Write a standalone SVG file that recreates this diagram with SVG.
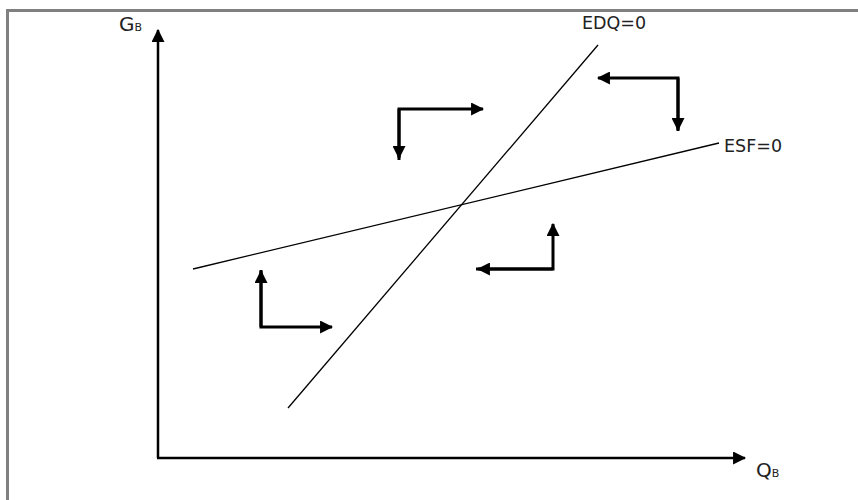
<svg xmlns="http://www.w3.org/2000/svg" width="858" height="500" viewBox="0 0 858 500">
<style>
.frame{stroke:#808080;stroke-width:3;fill:none}
.axis{stroke:#000;stroke-width:2.5;fill:none}
.curve{stroke:#000;stroke-width:1.3;fill:none}
.dir{stroke:#000;stroke-width:3;fill:none}
.lbl{font-family:"DejaVu Sans","Liberation Sans",sans-serif;font-size:17.5px;fill:#222}
.big{font-size:20px}
.sub{font-size:11px}
</style>
<defs>
<marker id="ax" viewBox="0 0 12 12" refX="11" refY="6" markerWidth="13" markerHeight="13" markerUnits="userSpaceOnUse" orient="auto"><path d="M0,0 L12,6 L0,12 Z" fill="#000"/></marker>
<marker id="ah" viewBox="0 0 12 12" refX="11" refY="6" markerWidth="13" markerHeight="13" markerUnits="userSpaceOnUse" orient="auto"><path d="M0,0 L12,6 L0,12 Z" fill="#000"/></marker>
</defs>
<rect width="858" height="500" fill="#fff"/>
<path class="frame" d="M7.5,500 V10.5 H858"/>
<g id="connectors">
<path class="axis" d="M158,458 V30" marker-end="url(#ax)"/>
<path class="axis" d="M157,458 H745" marker-end="url(#ax)"/>
<path class="curve" d="M288,408 L598,45"/>
<path class="curve" d="M193,269 L719,143"/>
<path class="dir" d="M399,160 V109 H483" marker-end="url(#ah)"/>
<path class="dir" d="M399,109 V158" marker-end="url(#ah)"/>
<path class="dir" d="M678,131 V78 H598" marker-end="url(#ah)"/>
<path class="dir" d="M678,78 V130" marker-end="url(#ah)"/>
<path class="dir" d="M476,269 H553 V224" marker-end="url(#ah)"/>
<path class="dir" d="M553,269 H478" marker-end="url(#ah)"/>
<path class="dir" d="M261,270 V327 H332" marker-end="url(#ah)"/>
<path class="dir" d="M261,327 V271" marker-end="url(#ah)"/>
</g>
<g id="label-GB"><text class="lbl big" x="119" y="31">G<tspan class="sub">B</tspan></text></g>
<g id="label-QB"><text class="lbl big" x="756" y="477">Q<tspan class="sub">B</tspan></text></g>
<g id="label-EDQ"><text class="lbl" x="582" y="29">EDQ=0</text></g>
<g id="label-ESF"><text class="lbl" x="724" y="152">ESF=0</text></g>
</svg>
